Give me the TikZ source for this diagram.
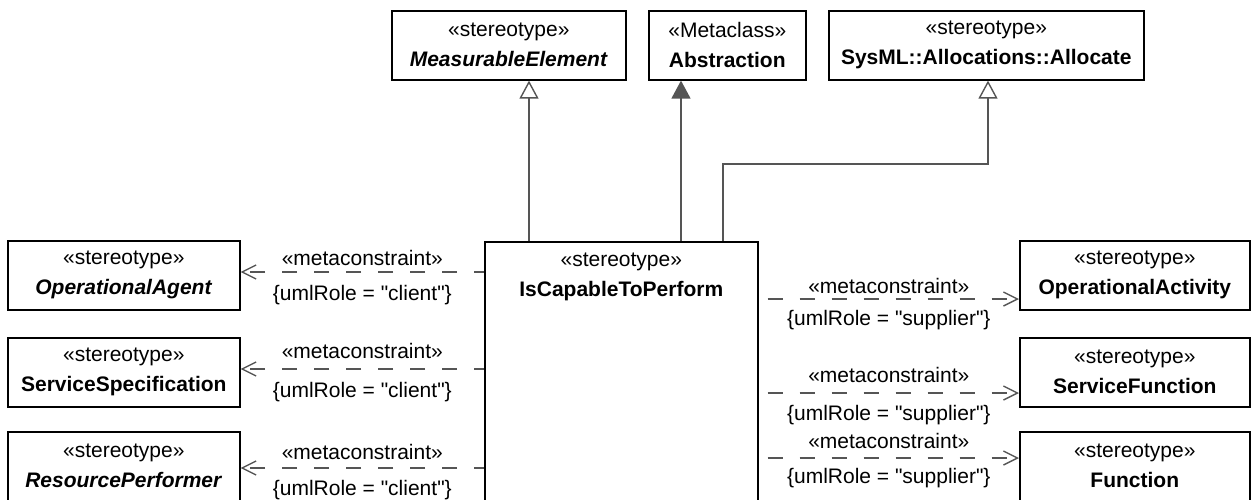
\documentclass[tikz,border=0pt]{standalone}
\usepackage{fontspec}
\setmainfont{Liberation Sans}[Ligatures=TeXOff]
\usetikzlibrary{arrows.meta}

\definecolor{linegray}{HTML}{555555}
\newcommand{\umlfont}{\fontsize{21}{30}\selectfont}

\begin{document}
\begin{tikzpicture}[x=1pt, y=-1pt,
	stereobox/.style={draw, line width=1.6pt, inner sep=0pt, minimum height=69pt, align=center, font=\umlfont, anchor=north west},
	gen/.style={draw=linegray, line width=1.4pt, -{Triangle[open, length=18pt, width=19pt]}},
	genfill/.style={draw=linegray, line width=1.4pt, -{Triangle[length=18pt, width=19pt]}},
	dep/.style={draw=linegray, line width=1.4pt, dash pattern=on 15pt off 17pt, -{Straight Barb[length=14pt, width=14pt]}},
	lbl/.style={font=\umlfont, inner sep=0pt, anchor=base}]
	\useasboundingbox (0,0) rectangle (1254,499);
	\clip (0,0) rectangle (1254,499);

	% metaclass and stereotypes on top
	\node[stereobox, minimum width=234pt] (measurable) at (391,10) {«stereotype»\\\textbf{\textit{MeasurableElement}}};
	\node[stereobox, minimum width=157pt] (abstraction) at (648,10) {«Metaclass»\\\textbf{Abstraction}};
	\node[stereobox, minimum width=315pt] (allocate) at (828,10) {«stereotype»\\\textbf{SysML::Allocations::Allocate}};

	% the stereotype itself
	\node[draw, line width=1.6pt, inner sep=0pt, minimum width=273pt, minimum height=320pt, anchor=north west] (perform) at (484,241) {};
	\node[font=\umlfont, align=center, inner sep=0pt, anchor=north, yshift=-12pt] (performname) at (perform.north) {«stereotype»\\\textbf{IsCapableToPerform}};

	% clients
	\node[stereobox, minimum width=232pt] (agent) at (7,240) {«stereotype»\\\textbf{\textit{OperationalAgent}}};
	\node[stereobox, minimum width=232pt] (servicespec) at (7,337) {«stereotype»\\\textbf{ServiceSpecification}};
	\node[stereobox, minimum width=232pt] (resperformer) at (7,431) {«stereotype»\\\textbf{\textit{ResourcePerformer}}};

	% suppliers
	\node[stereobox, minimum width=230pt] (opactivity) at (1019,240) {«stereotype»\\\textbf{OperationalActivity}};
	\node[stereobox, minimum width=230pt] (servicefunction) at (1019,337) {«stereotype»\\\textbf{ServiceFunction}};
	\node[stereobox, minimum width=230pt] (function) at (1019,431) {«stereotype»\\\textbf{Function}};

	% generalizations
	\draw[gen] (perform.north west) ++(45,0) coordinate (g1) -- (g1 |- measurable.south);
	\draw[genfill] (perform.north west) ++(197,0) coordinate (g2) -- (g2 |- abstraction.south);
	\coordinate (g3) at ([xshift=160pt]allocate.south west);
	\draw[gen] (perform.north west) ++(239,0) -- ++(0,-77) -| (g3);

	% metaconstraints to the clients
	\draw[dep, dash phase=5pt] (perform.west |- 0,272) -- (agent.east |- 0,272)
		node[lbl, pos=.5, yshift=7pt] (meta1) {«metaconstraint»}
		node[lbl, pos=.5, yshift=-28pt] (role1) {\{umlRole = "client"\}};
	\draw[dep, dash phase=5pt] (perform.west |- 0,369) -- (servicespec.east |- 0,369)
		node[lbl, pos=.5, yshift=11pt] (meta2) {«metaconstraint»}
		node[lbl, pos=.5, yshift=-28pt] (role2) {\{umlRole = "client"\}};
	\draw[dep, dash phase=5pt] (perform.west |- 0,468) -- (resperformer.east |- 0,468)
		node[lbl, pos=.5, yshift=9pt] (meta3) {«metaconstraint»}
		node[lbl, pos=.5, yshift=-27pt] (role3) {\{umlRole = "client"\}};

	% metaconstraints to the suppliers
	\draw[dep, dash phase=23pt] (perform.east |- 0,299) -- (opactivity.west |- 0,299)
		node[lbl, pos=.5, yshift=6pt] (meta4) {«metaconstraint»}
		node[lbl, pos=.5, yshift=-26pt] (role4) {\{umlRole = "supplier"\}};
	\draw[dep, dash phase=23pt] (perform.east |- 0,393) -- (servicefunction.west |- 0,393)
		node[lbl, pos=.5, yshift=11pt] (meta5) {«metaconstraint»}
		node[lbl, pos=.5, yshift=-27pt] (role5) {\{umlRole = "supplier"\}};
	\draw[dep, dash phase=23pt] (perform.east |- 0,458) -- (function.west |- 0,458)
		node[lbl, pos=.5, yshift=10pt] (meta6) {«metaconstraint»}
		node[lbl, pos=.5, yshift=-25pt] (role6) {\{umlRole = "supplier"\}};
\end{tikzpicture}
\end{document}
